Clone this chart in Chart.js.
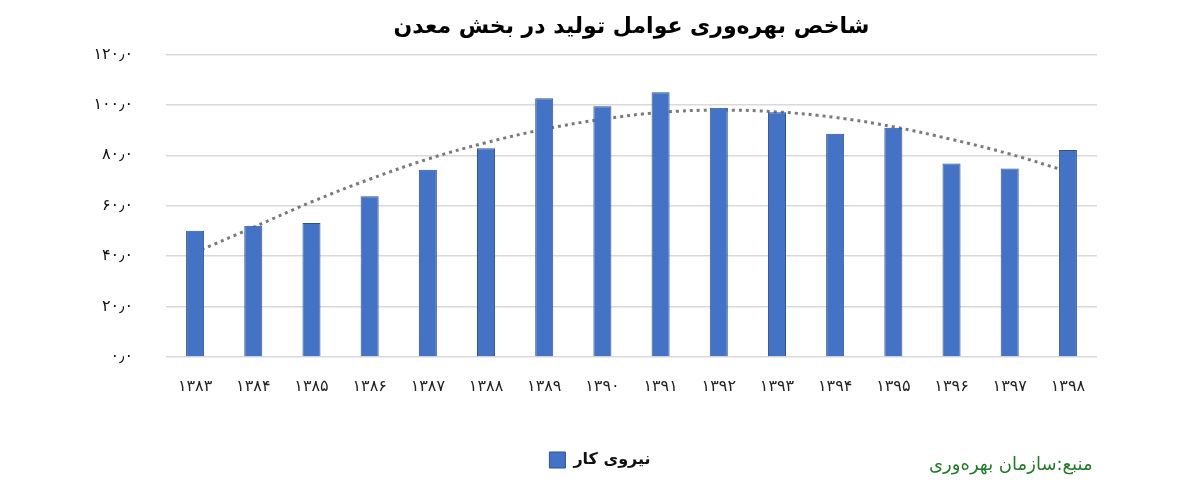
<!DOCTYPE html>
<html lang="fa">
<head>
<meta charset="utf-8">
<script src="https://cdn.jsdelivr.net/npm/chart.js@4.4.1/dist/chart.umd.min.js"></script>
<style>
  html, body { margin: 0; padding: 0; background: #fff; }
  #wrap { position: relative; width: 1200px; height: 492px; }
  #source {
    position: absolute; left: 929px; top: 453px;
    font-family: "DejaVu Sans", sans-serif; font-size: 18px;
    color: #237a2a; direction: rtl; white-space: nowrap;
  }
</style>
</head>
<body>
<div id="wrap">
  <canvas id="chartMaadan" width="1200" height="492"></canvas>
  <div id="source">منبع:سازمان بهره‌وری</div>
</div>
<script>
// سال‌ها
const years = ['۱۳۸۳','۱۳۸۴','۱۳۸۵','۱۳۸۶','۱۳۸۷','۱۳۸۸','۱۳۸۹','۱۳۹۰',
               '۱۳۹۱','۱۳۹۲','۱۳۹۳','۱۳۹۴','۱۳۹۵','۱۳۹۶','۱۳۹۷','۱۳۹۸'];
// شاخص بهره‌وری نیروی کار
const nirooyeKar = [50.1, 52.0, 53.1, 63.7, 74.3, 82.8, 102.6, 99.4,
                    105.0, 98.8, 97.1, 88.5, 90.9, 76.7, 74.8, 82.1];
// خط روند (چندجمله‌ای)
const ravand = [41.5, 51.4, 61.5, 70.5, 78.5, 85.0, 90.3, 94.3,
                97.0, 97.9, 97.2, 95.0, 91.3, 86.3, 80.5, 73.5];
const yTicks = [0, 20, 40, 60, 80, 100, 120];

const faDigits = '۰۱۲۳۴۵۶۷۸۹';
function toFa(str) {
    return String(str).replace(/[0-9]/g, d => faDigits[d]).replace('.', '٫');
}

document.addEventListener("DOMContentLoaded", function () {
    const ctx = document.getElementById('chartMaadan').getContext('2d');

    new Chart(ctx, {
        data: {
            labels: years,
            datasets: [
                {
                    type: 'bar',
                    label: 'نیروی کار',
                    data: nirooyeKar,
                    backgroundColor: '#4472c4',
                    borderColor: '#2f528f',
                    borderWidth: 1,
                    categoryPercentage: 1,
                    barPercentage: 0.31,
                    order: 0
                },
                {
                    type: 'line',
                    label: 'روند',
                    data: ravand,
                    borderColor: '#7a7a7a',
                    borderWidth: 3,
                    borderDash: [3, 4],
                    pointRadius: 0,
                    tension: 0.4,
                    fill: false,
                    order: 1
                }
            ]
        },
        options: {
            responsive: false,
            animation: false,
            layout: { padding: { top: 0, right: 0, bottom: 14, left: 0 } },
            plugins: {
                title: {
                    display: true,
                    fullSize: false,
                    text: 'شاخص بهره‌وری عوامل تولید در بخش معدن',
                    color: '#000',
                    font: { family: 'DejaVu Sans', size: 22, weight: 'bold' },
                    padding: { top: 14, bottom: 14 }
                },
                legend: {
                    position: 'bottom',
                    labels: {
                        color: '#111',
                        font: { family: 'DejaVu Sans', size: 16, weight: 'bold' },
                        boxWidth: 16,
                        boxHeight: 16,
                        padding: 10,
                        filter: item => item.datasetIndex === 0
                    }
                },
                tooltip: { enabled: false }
            },
            scales: {
                x: {
                    grid: { display: false },
                    border: { display: false },
                    ticks: {
                        color: '#222',
                        font: { family: 'DejaVu Sans', size: 16 },
                        padding: 12,
                        maxRotation: 0
                    },
                    afterFit: scale => { scale.height = 85; }
                },
                y: {
                    min: 0,
                    max: 120,
                    afterBuildTicks: scale => { scale.ticks = yTicks.map(v => ({ value: v })); },
                    grid: { color: '#d9d9d9', lineWidth: 1.5, drawTicks: false },
                    border: { display: false },
                    ticks: {
                        color: '#111',
                        font: { family: 'DejaVu Sans', size: 16 },
                        padding: 33,
                        callback: value => toFa(value.toFixed(1))
                    },
                    afterFit: scale => { scale.width = 166; }
                },
                yRight: {
                    position: 'right',
                    min: 0,
                    max: 120,
                    grid: { display: false },
                    border: { display: false },
                    ticks: { display: false },
                    afterFit: scale => { scale.width = 103; }
                }
            }
        }
    });
});
</script>
</body>
</html>
